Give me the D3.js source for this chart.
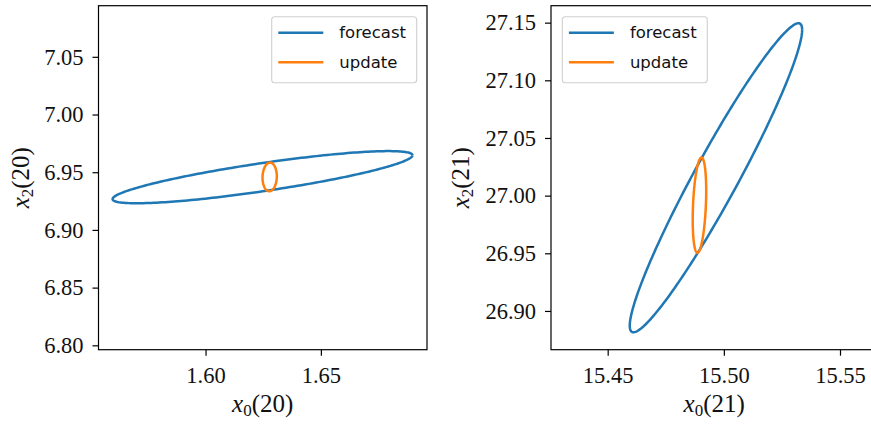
<!DOCTYPE html>
<html>
<head>
<meta charset="utf-8">
<script src="https://cdn.jsdelivr.net/npm/d3@7"></script>
<style>
  html, body { margin: 0; padding: 0; background: #fff; }
  svg { display: block; }
  .tick text { font-family: "Liberation Serif", "DejaVu Serif", serif; font-size: 22.5px; fill: #111; }
  .axis-label { font-family: "Liberation Serif", "DejaVu Serif", serif; font-size: 25px; fill: #111; }
  .legend text { font-family: "DejaVu Sans", sans-serif; font-size: 16.5px; fill: #111; }
</style>
</head>
<body>
<svg id="chart" width="871" height="424"></svg>
<script>
// Panel setup: axis ranges, ticks and label subscripts
const panelStep = ["20", "21"];
const xDomains = [[1.5536, 1.6960], [15.4256, 15.5670]];
const yDomains = [[6.7962, 7.0943], [26.8664, 27.1647]];
const xTicks = [[1.60, 1.65], [15.45, 15.50, 15.55]];
const yTicks = [[6.80, 6.85, 6.90, 6.95, 7.00, 7.05], [26.90, 26.95, 27.00, 27.05, 27.10, 27.15]];

// Series: confidence ellipses given by centre, standard deviations and correlation
const seriesNames = ["forecast", "update"];
const seriesColors = ["#1f77b4", "#ff7f0e"];
const centerX = [[1.6247, 1.6278], [15.4966, 15.4895]];
const centerY = [[6.9457, 6.9459], [27.0155, 26.9917]];
const sigmaX = [[0.0650, 0.0031], [0.0371, 0.0029]];
const sigmaY = [[0.0226, 0.0124], [0.1340, 0.0413]];
const rho = [[0.84, 0.05], [0.957, 0.30]];

const svg = d3.select("#chart");
const panels = [
  { left: 98.5, right: 427, top: 5.7, bottom: 349.7, legendX: 271.7, yLabelOffset: 70, xLabelShift: 0 },
  { left: 551, right: 879.5, top: 5.7, bottom: 349.7, legendX: 562.3, yLabelOffset: 82, xLabelShift: -1 }
];

const nSteps = 240;
const angles = d3.range(nSteps + 1).map(i => 2 * Math.PI * i / nSteps);

panels.forEach((p, pi) => {
  const x = d3.scaleLinear().domain(xDomains[pi]).range([p.left, p.right]);
  const y = d3.scaleLinear().domain(yDomains[pi]).range([p.bottom, p.top]);

  const clipId = "clip" + pi;
  svg.append("clipPath").attr("id", clipId)
    .append("rect").attr("x", p.left).attr("y", p.top)
    .attr("width", p.right - p.left).attr("height", p.bottom - p.top);

  // Ellipse outlines
  const line = d3.line().x(d => x(d[0])).y(d => y(d[1]));
  const g = svg.append("g").attr("clip-path", `url(#${clipId})`);
  seriesNames.forEach((name, si) => {
    const cx = centerX[pi][si], cy = centerY[pi][si];
    const sx = sigmaX[pi][si], sy = sigmaY[pi][si], r = rho[pi][si];
    const pts = angles.map(t => [
      cx + sx * Math.cos(t),
      cy + sy * (r * Math.cos(t) + Math.sqrt(1 - r * r) * Math.sin(t))
    ]);
    g.append("path").datum(pts)
      .attr("d", line)
      .attr("fill", "none")
      .attr("stroke", seriesColors[si])
      .attr("stroke-width", 2.5)
      .attr("stroke-linejoin", "round");
  });

  // Axes
  const xAxis = d3.axisBottom(x).tickValues(xTicks[pi]).tickFormat(d3.format(".2f"))
    .tickSizeOuter(0).tickSizeInner(6).tickPadding(8);
  const yAxis = d3.axisLeft(y).tickValues(yTicks[pi]).tickFormat(d3.format(".2f"))
    .tickSizeOuter(0).tickSizeInner(6).tickPadding(9);

  const gx = svg.append("g").attr("transform", `translate(0,${p.bottom})`).call(xAxis);
  const gy = svg.append("g").attr("transform", `translate(${p.left},0)`).call(yAxis);
  [gx, gy].forEach(ax => {
    ax.select(".domain").remove();
    ax.selectAll(".tick line").attr("stroke", "#000").attr("stroke-width", 1.2);
  });
  gx.selectAll(".tick text").attr("dy", "0.85em");

  // Frame
  svg.append("rect")
    .attr("x", p.left).attr("y", p.top)
    .attr("width", p.right - p.left).attr("height", p.bottom - p.top)
    .attr("fill", "none").attr("stroke", "#000").attr("stroke-width", 1.2);

  // Axis labels: x_0(step) and x_2(step)
  const xl = svg.append("text").attr("class", "axis-label")
    .attr("x", (p.left + p.right) / 2 + p.xLabelShift).attr("y", 412).attr("text-anchor", "middle");
  xl.append("tspan").attr("font-style", "italic").text("x");
  xl.append("tspan").attr("font-size", "17px").attr("dy", 4).text("0");
  xl.append("tspan").attr("dy", -4).text("(" + panelStep[pi] + ")");

  const midY = (p.top + p.bottom) / 2;
  const yl = svg.append("text").attr("class", "axis-label")
    .attr("transform", `translate(${p.left - p.yLabelOffset},${midY}) rotate(-90)`)
    .attr("text-anchor", "middle");
  yl.append("tspan").attr("font-style", "italic").text("x");
  yl.append("tspan").attr("font-size", "17px").attr("dy", 4).text("2");
  yl.append("tspan").attr("dy", -4).text("(" + panelStep[pi] + ")");

  // Legend
  const lg = svg.append("g").attr("class", "legend")
    .attr("transform", `translate(${p.legendX},16.7)`);
  lg.append("rect").attr("width", 145).attr("height", 66).attr("rx", 3)
    .attr("fill", "#fff").attr("fill-opacity", 0.8)
    .attr("stroke", "#d0d0d0").attr("stroke-width", 1.1);
  seriesNames.forEach((name, si) => {
    const ly = 16 + si * 29.6;
    lg.append("line").attr("x1", 6.6).attr("x2", 51.6).attr("y1", ly).attr("y2", ly)
      .attr("stroke", seriesColors[si]).attr("stroke-width", 2.5);
    lg.append("text").attr("x", 67.6).attr("y", ly).attr("dy", "0.35em").text(name);
  });
});
</script>
</body>
</html>
